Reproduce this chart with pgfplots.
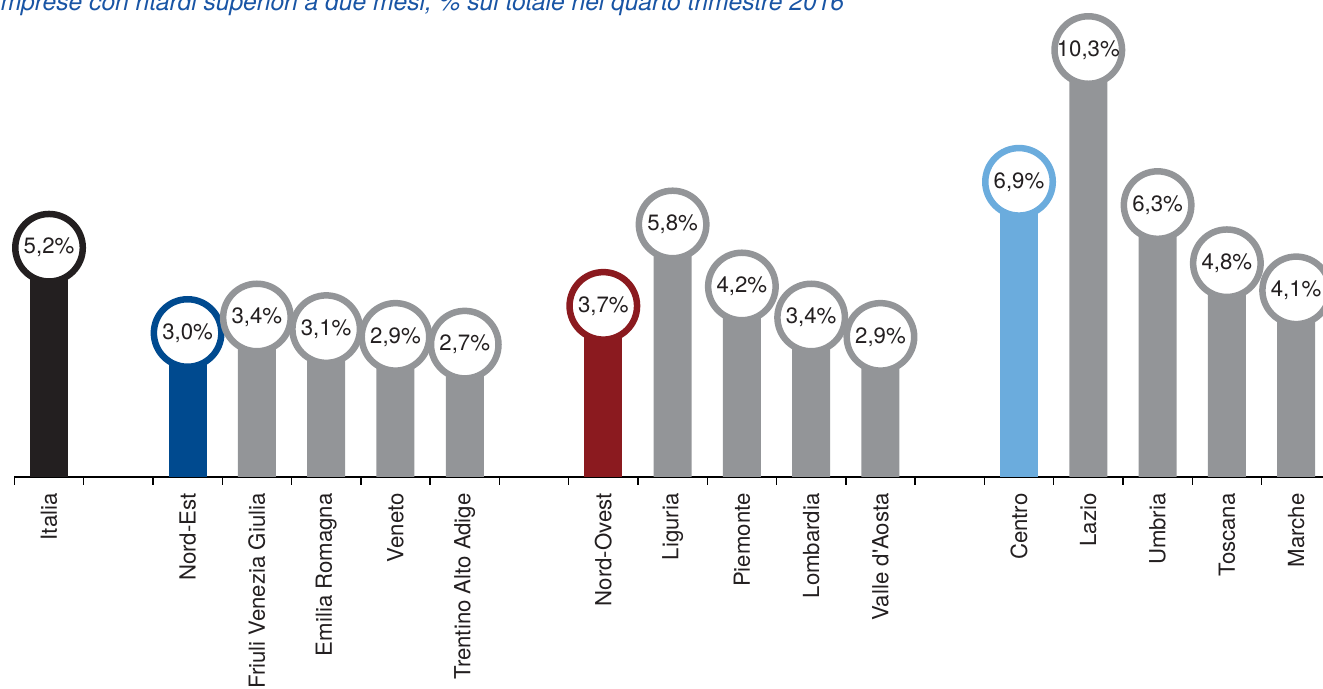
\documentclass[border=0pt]{standalone}
\usepackage{pgfplots}
\pgfplotsset{compat=1.18}
\usepackage{fontspec}
\setmainfont{TeX Gyre Heros}

\definecolor{cItalia}{RGB}{35,31,32}
\definecolor{cNordEst}{RGB}{0,74,143}
\definecolor{cNordOvest}{RGB}{139,26,31}
\definecolor{cCentro}{RGB}{107,172,221}
\definecolor{cRegione}{RGB}{147,149,152}
\definecolor{cTesto}{RGB}{35,31,32}
\definecolor{cTitolo}{RGB}{25,85,165}

% categorie su 0..18 (1, 7 e 13 sono spazi vuoti)
\pgfplotsset{
  bolla/.style={
    ybar, bar width=19pt, bar shift=0pt, draw=none, fill=#1,
    nodes near coords={\pgfmathprintnumber[fixed,fixed zerofill,precision=1,use comma,assume math mode=true]{\pgfplotspointmeta}\%},
    every node near coord/.append style={circle, draw=#1, line width=3.25pt, fill=white,
      minimum size=33.75pt, inner sep=0pt, anchor=center, yshift=13.85pt,
      text=cTesto, font=\fontsize{11.1}{13}\selectfont},
  },
}

\begin{document}
\begin{tikzpicture}
\begin{axis}[
    at={(7.2pt,106pt)}, anchor=south west,
    scale only axis,
    width=658.2pt, height=213.2pt,
    xmin=-0.5, xmax=18.5,
    ymin=0, ymax=11,
    clip=false,
    axis x line*=bottom,
    axis y line=none,
    axis line style={-, line width=0.7pt, color=black},
    xtick={0,2,3,4,5,6,8,9,10,11,12,14,15,16,17,18},
    xticklabels={Italia, Nord-Est, Friuli Venezia Giulia, Emilia Romagna, Veneto,
      Trentino Alto Adige, Nord-Ovest, Liguria, Piemonte, Lombardia, Valle d{\textquotesingle}Aosta,
      Centro, Lazio, Umbria, Toscana, Marche},
    major tick length=0pt,
    minor xtick={-0.5,0.5,...,18.5},
    minor tick length=4pt,
    tick align=outside,
    minor tick style={line width=0.7pt, color=black},
    xticklabel shift=8pt,
    xticklabel style={rotate=90, anchor=east, inner sep=0pt,
      font=\fontsize{11.1}{13}\selectfont, text=cTesto},
  ]
  \addplot[bolla=cItalia] coordinates {(0,5.2)};
  \addplot[bolla=cNordEst] coordinates {(2,3.0)};
  \addplot[bolla=cNordOvest] coordinates {(8,3.7)};
  \addplot[bolla=cCentro] coordinates {(14,6.9)};
  \addplot[bolla=cRegione] coordinates {
    (3,3.4) (4,3.1) (5,2.9) (6,2.7)
    (9,5.8) (10,4.2) (11,3.4) (12,2.9)
    (15,10.3) (16,6.3) (17,4.8) (18,4.1)};
\end{axis}
\node[anchor=base west, inner sep=0pt, text=cTitolo,
  font=\fontsize{12.3}{14}\selectfont\itshape] at (-3.2pt,339pt)
  {Imprese con ritardi superiori a due mesi, \% sul totale nel quarto trimestre 2016};
\pgfresetboundingbox
\useasboundingbox (0,0) rectangle (661.5pt,344.5pt);
\end{tikzpicture}
\end{document}
